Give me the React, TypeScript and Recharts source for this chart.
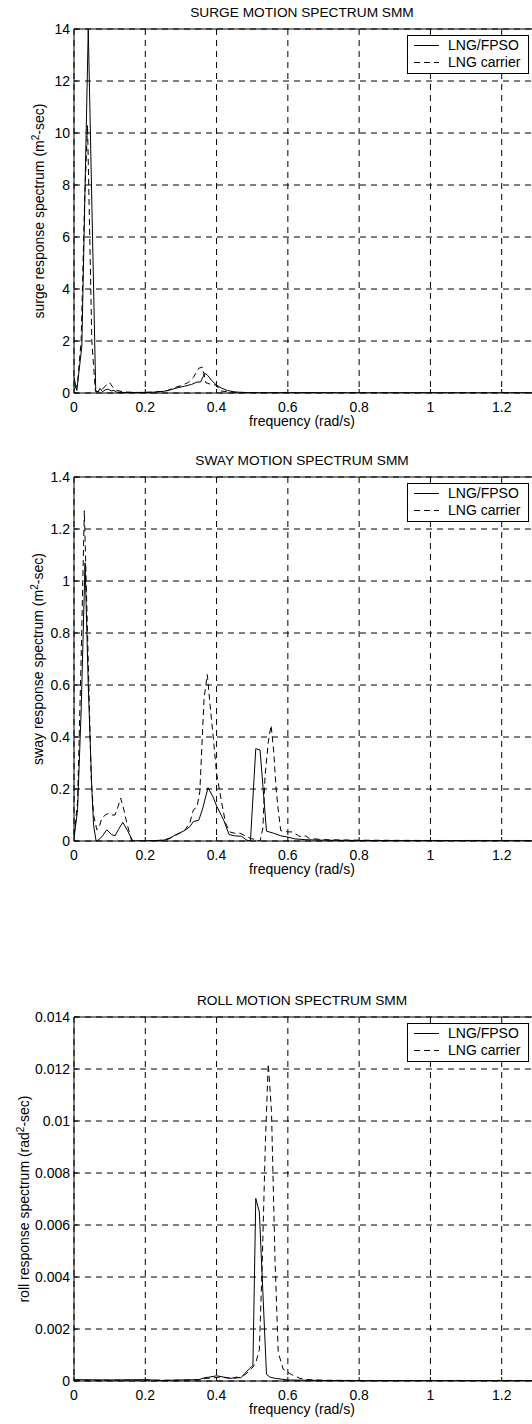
import React from 'react';
import { LineChart, Line, XAxis, YAxis, CartesianGrid } from 'recharts';

const FONT = '"Liberation Sans", Arial, Helvetica, sans-serif';

// frequency axis (rad/s); the axis runs on past the right edge of the picture
const xTicks = [0, 0.2, 0.4, 0.6, 0.8, 1, 1.2];
const xTickLabels = ['0', '0.2', '0.4', '0.6', '0.8', '1', '1.2'];

// surge
const surgeTicks = [0, 2, 4, 6, 8, 10, 12, 14];
const surgeTickLabels = ['0', '2', '4', '6', '8', '10', '12', '14'];
const surgeFpsoFreq = [0, 0.008, 0.022, 0.04, 0.061, 0.068, 0.073, 0.08, 0.088, 0.096, 0.104, 0.112, 0.12, 0.14, 0.18, 0.22, 0.25, 0.27, 0.29, 0.31, 0.33, 0.345, 0.355, 0.367, 0.375, 0.385, 0.4, 0.415, 0.43, 0.45, 0.48, 0.52, 0.6, 0.8, 1.0, 1.2, 1.4];
const surgeFpsoVal = [0.6, 0.1, 1.8, 14, 0.05, 0.05, 0.18, 0.05, 0.12, 0.15, 0.08, 0.1, 0.03, 0.02, 0.02, 0.03, 0.06, 0.12, 0.2, 0.26, 0.33, 0.42, 0.42, 0.76, 0.68, 0.5, 0.3, 0.18, 0.1, 0.04, 0.02, 0.01, 0.01, 0.005, 0.005, 0.005, 0.005];
const surgeCarrierFreq = [0, 0.01, 0.02, 0.03, 0.038, 0.05, 0.06, 0.07, 0.08, 0.09, 0.1, 0.11, 0.12, 0.14, 0.18, 0.22, 0.26, 0.28, 0.3, 0.32, 0.335, 0.35, 0.36, 0.37, 0.38, 0.39, 0.4, 0.41, 0.43, 0.46, 0.5, 0.6, 0.8, 1.0, 1.2, 1.4];
const surgeCarrierVal = [0.1, 0.4, 2, 7.5, 10.3, 2, 0.08, 0.05, 0.15, 0.3, 0.4, 0.2, 0.1, 0.04, 0.02, 0.03, 0.08, 0.2, 0.28, 0.4, 0.6, 0.95, 1.0, 0.4, 0.35, 0.32, 0.3, 0.08, 0.05, 0.02, 0.01, 0.01, 0.005, 0.005, 0.005, 0.005];

// sway
const swayTicks = [0, 0.2, 0.4, 0.6, 0.8, 1, 1.2, 1.4];
const swayTickLabels = ['0', '0.2', '0.4', '0.6', '0.8', '1', '1.2', '1.4'];
const swayFpsoFreq = [0, 0.01, 0.02, 0.031, 0.04, 0.05, 0.055, 0.062, 0.07, 0.08, 0.092, 0.105, 0.115, 0.125, 0.137, 0.15, 0.165, 0.2, 0.25, 0.265, 0.28, 0.295, 0.31, 0.325, 0.335, 0.35, 0.36, 0.376, 0.39, 0.4, 0.42, 0.435, 0.45, 0.47, 0.485, 0.495, 0.51, 0.522, 0.54, 0.56, 0.58, 0.6, 0.62, 0.65, 0.7, 0.8, 1.0, 1.2, 1.4];
const swayFpsoVal = [0.01, 0.12, 0.5, 1.07, 0.6, 0.2, 0.06, 0.0, 0.005, 0.02, 0.043, 0.025, 0.02, 0.045, 0.072, 0.04, 0.0, 0.0, 0.003, 0.007, 0.02, 0.03, 0.04, 0.055, 0.075, 0.08, 0.12, 0.205, 0.17, 0.135, 0.08, 0.025, 0.02, 0.018, 0.003, 0.0, 0.355, 0.35, 0.038, 0.03, 0.02, 0.015, 0.008, 0.005, 0.003, 0.002, 0.001, 0.001, 0.001];
const swayCarrierFreq = [0, 0.01, 0.02, 0.029, 0.038, 0.048, 0.055, 0.064, 0.07, 0.078, 0.088, 0.097, 0.107, 0.115, 0.123, 0.131, 0.14, 0.148, 0.162, 0.2, 0.25, 0.27, 0.29, 0.31, 0.325, 0.335, 0.345, 0.353, 0.365, 0.374, 0.382, 0.392, 0.4, 0.414, 0.425, 0.437, 0.45, 0.466, 0.48, 0.495, 0.51, 0.522, 0.53, 0.536, 0.545, 0.553, 0.56, 0.567, 0.573, 0.58, 0.6, 0.613, 0.63, 0.64, 0.65, 0.66, 0.7, 0.8, 1.0, 1.2, 1.4];
const swayCarrierVal = [0.02, 0.15, 0.7, 1.27, 0.8, 0.25, 0.1, 0.043, 0.05, 0.088, 0.1, 0.107, 0.1, 0.1, 0.13, 0.165, 0.12, 0.07, 0.0, 0.0, 0.003, 0.012, 0.025, 0.04, 0.07, 0.12, 0.13, 0.19, 0.55, 0.64, 0.52, 0.38, 0.26, 0.15, 0.07, 0.035, 0.03, 0.03, 0.02, 0.01, 0.005, 0.0, 0.05, 0.25, 0.38, 0.445, 0.35, 0.2, 0.12, 0.04, 0.035, 0.035, 0.02, 0.015, 0.02, 0.01, 0.005, 0.003, 0.002, 0.002, 0.002];

// roll
const rollTicks = [0, 0.002, 0.004, 0.006, 0.008, 0.01, 0.012, 0.014];
const rollTickLabels = ['0', '0.002', '0.004', '0.006', '0.008', '0.01', '0.012', '0.014'];
const rollFpsoFreq = [0, 0.1, 0.2, 0.25, 0.3, 0.35, 0.365, 0.38, 0.4, 0.42, 0.44, 0.455, 0.468, 0.48, 0.492, 0.502, 0.51, 0.52, 0.54, 0.55, 0.565, 0.6, 0.65, 0.7, 0.8, 1.0, 1.2, 1.4];
const rollFpsoVal = [0.00005, 0.00004, 0.00005, 0.00002, 0.00004, 0.00005, 0.00012, 0.00015, 0.0002, 0.00015, 0.0001, 0.00015, 0.00012, 0.0003, 0.00047, 0.0006, 0.00702, 0.0065, 0.00026, 0.00015, 0.0001, 0.00004, 0.00003, 0.00002, 0.00001, 0.00001, 0.00001, 0.00001];
const rollCarrierFreq = [0, 0.1, 0.2, 0.3, 0.35, 0.37, 0.39, 0.41, 0.43, 0.45, 0.47, 0.485, 0.5, 0.51, 0.52, 0.528, 0.537, 0.545, 0.554, 0.564, 0.573, 0.587, 0.61, 0.634, 0.66, 0.7, 0.8, 1.0, 1.2, 1.4];
const rollCarrierVal = [0.00003, 0.00003, 0.00003, 0.00003, 0.00005, 0.0001, 0.00012, 0.00015, 0.00012, 0.0001, 0.00015, 0.0003, 0.0005, 0.0007, 0.0012, 0.0045, 0.0092, 0.0122, 0.0104, 0.00465, 0.0011, 0.00045, 0.00025, 0.0001, 0.00005, 0.00003, 0.00002, 0.00002, 0.00002, 0.00002];

const legendNames = ['LNG/FPSO', 'LNG carrier'];

const toPoints = (freq: number[], val: number[]) => freq.map((f, i) => ({ f, v: val[i] }));

// plot box geometry (px inside each panel)
const PLOT_TOP = 29;
const PLOT_H = 364;
const Y_AXIS_W = 74;
const CHART_W = 583;
const CHART_H = 438;
const FS = 14;

function YTitle({ baseX, name, unit }: any) {
  const cy = PLOT_TOP + PLOT_H / 2;
  return (
    <text x={baseX} y={cy} transform={`rotate(-90 ${baseX} ${cy})`} textAnchor="middle"
      fontSize={FS} fontFamily={FONT} fill="#000">
      {`${name} (${unit}`}
      <tspan dy={-5} fontSize={10}>2</tspan>
      <tspan dy={5}>-sec)</tspan>
    </text>
  );
}

function XTitle() {
  return (
    <text x={302} y={PLOT_TOP + PLOT_H + 33} textAnchor="middle" fontSize={FS} fontFamily={FONT} fill="#000">
      frequency (rad/s)
    </text>
  );
}

function Panel({ top, title, name, unit, yTitleX, yMax, yTicks, yTickLabels, fpso, carrier }: any) {
  const tickStyle = { fill: '#000', fontSize: FS, fontFamily: FONT };
  return (
    <div style={{ position: 'absolute', left: 0, top, width: CHART_W, height: CHART_H }}>
      <div style={{
        position: 'absolute', left: Y_AXIS_W, width: 456, top: 5, lineHeight: '16px',
        textAlign: 'center', fontSize: 13.7, fontFamily: FONT, color: '#000',
      }}>
        {title}
      </div>
      <LineChart width={CHART_W} height={CHART_H} margin={{ top: PLOT_TOP - 1, right: 10, bottom: 0, left: 0 }}>
        <CartesianGrid stroke="#000" strokeDasharray="6 5" />
        <XAxis dataKey="f" type="number" domain={[0, 1.4]} ticks={xTicks} interval={0} allowDataOverflow
          height={CHART_H - PLOT_TOP - PLOT_H} tickSize={-4} tickMargin={13} tick={tickStyle}
          tickFormatter={(v: number) => xTickLabels[xTicks.indexOf(v)] ?? String(v)}
          axisLine={{ stroke: '#000' }} tickLine={{ stroke: '#000' }} label={<XTitle />} />
        <XAxis xAxisId="top" orientation="top" dataKey="f" type="number" domain={[0, 1.4]} ticks={xTicks}
          interval={0} height={1} tickSize={-4} tick={false}
          axisLine={{ stroke: '#000' }} tickLine={{ stroke: '#000' }} />
        <YAxis type="number" domain={[0, yMax]} ticks={yTicks} interval={0} allowDataOverflow width={Y_AXIS_W}
          tickSize={-4} tickMargin={8} tick={tickStyle}
          tickFormatter={(v: number) => yTickLabels[yTicks.indexOf(v)] ?? String(v)}
          axisLine={{ stroke: '#000' }} tickLine={{ stroke: '#000' }}
          label={<YTitle baseX={yTitleX} name={name} unit={unit} />} />
        <Line data={fpso} dataKey="v" type="linear" stroke="#000" strokeWidth={1} dot={false}
          activeDot={false} isAnimationActive={false} name={legendNames[0]} />
        <Line data={carrier} dataKey="v" type="linear" stroke="#000" strokeWidth={1} strokeDasharray="6 4"
          dot={false} activeDot={false} isAnimationActive={false} name={legendNames[1]} />
      </LineChart>
      <div style={{
        position: 'absolute', left: 407, top: PLOT_TOP + 6, width: 120, height: 37,
        border: '1px solid #000', background: '#fff', fontSize: FS, fontFamily: FONT, color: '#000',
      }}>
        {legendNames.map((n, i) => (
          <div key={n} style={{ position: 'absolute', left: 0, top: 1 + i * 17, height: 16, width: 120 }}>
            <svg width={28} height={16} style={{ position: 'absolute', left: 6, top: 0 }}>
              <line x1={0} x2={25} y1={8.5} y2={8.5} stroke="#000" strokeWidth={1}
                strokeDasharray={i === 1 ? '6 4' : undefined} />
            </svg>
            <span style={{ position: 'absolute', left: 40, top: 0, lineHeight: '16px', whiteSpace: 'nowrap' }}>{n}</span>
          </div>
        ))}
      </div>
    </div>
  );
}

export default function App() {
  return (
    <div style={{ position: 'absolute', left: 0, top: 0, width: 532, height: 1424, overflow: 'hidden', background: '#fff' }}>
      <Panel top={0} title="SURGE MOTION SPECTRUM SMM" name="surge response spectrum" unit="m" yTitleX={44}
        yMax={14} yTicks={surgeTicks} yTickLabels={surgeTickLabels}
        fpso={toPoints(surgeFpsoFreq, surgeFpsoVal)} carrier={toPoints(surgeCarrierFreq, surgeCarrierVal)} />
      <Panel top={448} title="SWAY MOTION SPECTRUM SMM" name="sway response spectrum" unit="m" yTitleX={43}
        yMax={1.4} yTicks={swayTicks} yTickLabels={swayTickLabels}
        fpso={toPoints(swayFpsoFreq, swayFpsoVal)} carrier={toPoints(swayCarrierFreq, swayCarrierVal)} />
      <Panel top={988} title="ROLL MOTION SPECTRUM SMM" name="roll response spectrum" unit="rad" yTitleX={29}
        yMax={0.014} yTicks={rollTicks} yTickLabels={rollTickLabels}
        fpso={toPoints(rollFpsoFreq, rollFpsoVal)} carrier={toPoints(rollCarrierFreq, rollCarrierVal)} />
    </div>
  );
}
